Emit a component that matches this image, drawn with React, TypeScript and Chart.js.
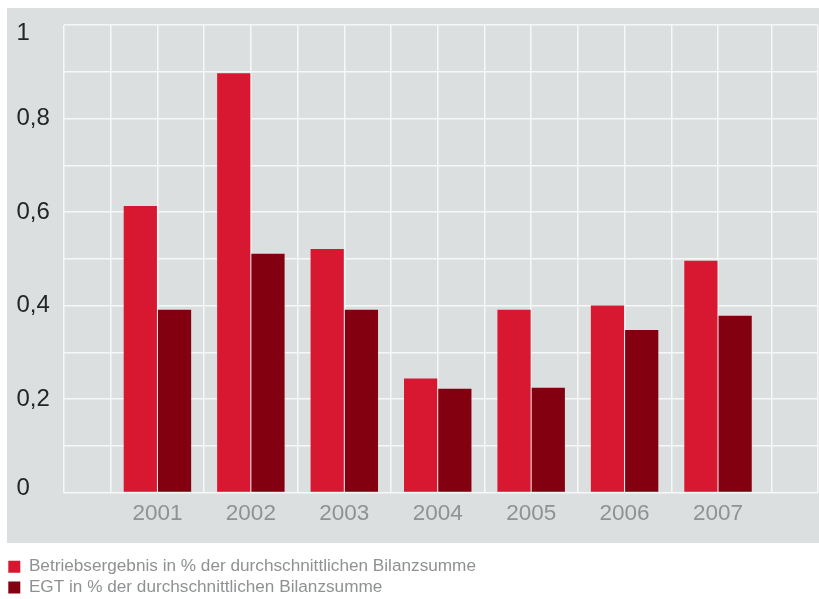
import React, { useEffect, useRef } from 'react';
import { Chart, registerables } from 'chart.js';

Chart.register(...registerables);

const YEARS = ['2001', '2002', '2003', '2004', '2005', '2006', '2007'];
const BETRIEBSERGEBNIS = [0.613, 0.897, 0.521, 0.244, 0.391, 0.4, 0.496];
const EGT = [0.391, 0.511, 0.391, 0.222, 0.224, 0.348, 0.378];
const SERIES_LABELS = [
  'Betriebsergebnis in % der durchschnittlichen Bilanzsumme',
  'EGT in % der durchschnittlichen Bilanzsumme',
];
const Y_LABEL_TICKS = [0, 0.2, 0.4, 0.6, 0.8, 1];

const FONT = '"Liberation Sans", Arial, Helvetica, sans-serif';
const GRID = '#f6f7f7';
const PAD_LEFT = 4.8;

const panelPlugin = {
  id: 'panel',
  beforeDraw(chart: any) {
    const ctx = chart.ctx;
    ctx.save();
    ctx.fillStyle = '#dcdfe0';
    ctx.fillRect(7, 8, 812, 535);
    ctx.restore();
    // nudge the extreme y labels inward, as in the printed chart
    const items = chart.scales.y.getLabelItems();
    items.forEach((it: any) => {
      if (it.label === '1') it.options.translation[1] += 8;
      if (it.label === '0') it.options.translation[1] -= 4;
    });
  },
};

const yLabelShift = {
  id: 'yLabelShift',
  afterLayout(chart: any) {
    chart.scales.y.left = 16.5;
  },
};

export default function App() {
  const ref = useRef<HTMLCanvasElement>(null);

  useEffect(() => {
    if (!ref.current) return;
    const chart = new Chart(ref.current, {
      type: 'bar',
      data: {
        datasets: [
          {
            label: SERIES_LABELS[0],
            data: BETRIEBSERGEBNIS.map((y, i) => ({ x: i + 1, y })),
            backgroundColor: '#d81730',
            borderWidth: 0,
          },
          {
            label: SERIES_LABELS[1],
            data: EGT.map((y, i) => ({ x: i + 1, y })),
            backgroundColor: '#830011',
            borderWidth: 0,
          },
        ],
      },
      options: {
        animation: false,
        responsive: false,
        layout: { padding: { left: PAD_LEFT, right: 1, top: 25, bottom: 4 } },
        datasets: { bar: { categoryPercentage: 1.466, barPercentage: 0.97 } },
        plugins: {
          tooltip: { enabled: false },
          legend: {
            position: 'bottom',
            align: 'start',
            labels: {
              boxWidth: 12,
              boxHeight: 12,
              padding: 3.5,
              color: '#8e9292',
              font: { size: 17.2, family: FONT },
            },
          },
        },
        scales: {
          x: {
            type: 'linear',
            min: 0,
            max: 8.07,
            offset: false,
            afterBuildTicks: (axis: any) => {
              axis.ticks = [0, 0.5, 1, 1.5, 2, 2.5, 3, 3.5, 4, 4.5, 5, 5.5, 6, 6.5, 7, 7.57, 8.07].map(
                (v) => ({ value: v })
              );
            },
            afterFit: (axis: any) => {
              axis.height = 62;
            },
            grid: {
              color: GRID,
              lineWidth: 1.5,
              drawTicks: true,
              tickLength: 8,
              tickColor: 'rgba(0,0,0,0)',
              offset: false,
            },
            border: { display: false },
            ticks: {
              autoSkip: false,
              maxRotation: 0,
              minRotation: 0,
              padding: 0,
              color: '#8e9292',
              font: { size: 22.5, family: FONT },
              callback: (v: any) => {
                const n = Number(v);
                return Number.isInteger(n) && n >= 1 && n <= YEARS.length ? YEARS[n - 1] : '';
              },
            },
          },
          y: {
            min: 0,
            max: 1,
            afterFit: (axis: any) => {
              axis.width = 64 - PAD_LEFT;
            },
            grid: { color: GRID, lineWidth: 1.5, drawTicks: false },
            border: { display: false },
            ticks: {
              stepSize: 0.1,
              crossAlign: 'far',
              color: '#252525',
              font: { size: 24, family: FONT },
              callback: (v: any) => {
                const n = Math.round(Number(v) * 10) / 10;
                const hit = Y_LABEL_TICKS.find((t) => Math.abs(t - n) < 1e-6);
                return hit === undefined ? '' : String(hit).replace('.', ',');
              },
            },
          },
        },
      },
      plugins: [panelPlugin, yLabelShift],
    } as any);
    return () => chart.destroy();
  }, []);

  return (
    <div style={{ position: 'fixed', left: 0, top: 0, width: 819, height: 610 }}>
      <canvas ref={ref} width={819} height={610} style={{ display: 'block' }} />
    </div>
  );
}
